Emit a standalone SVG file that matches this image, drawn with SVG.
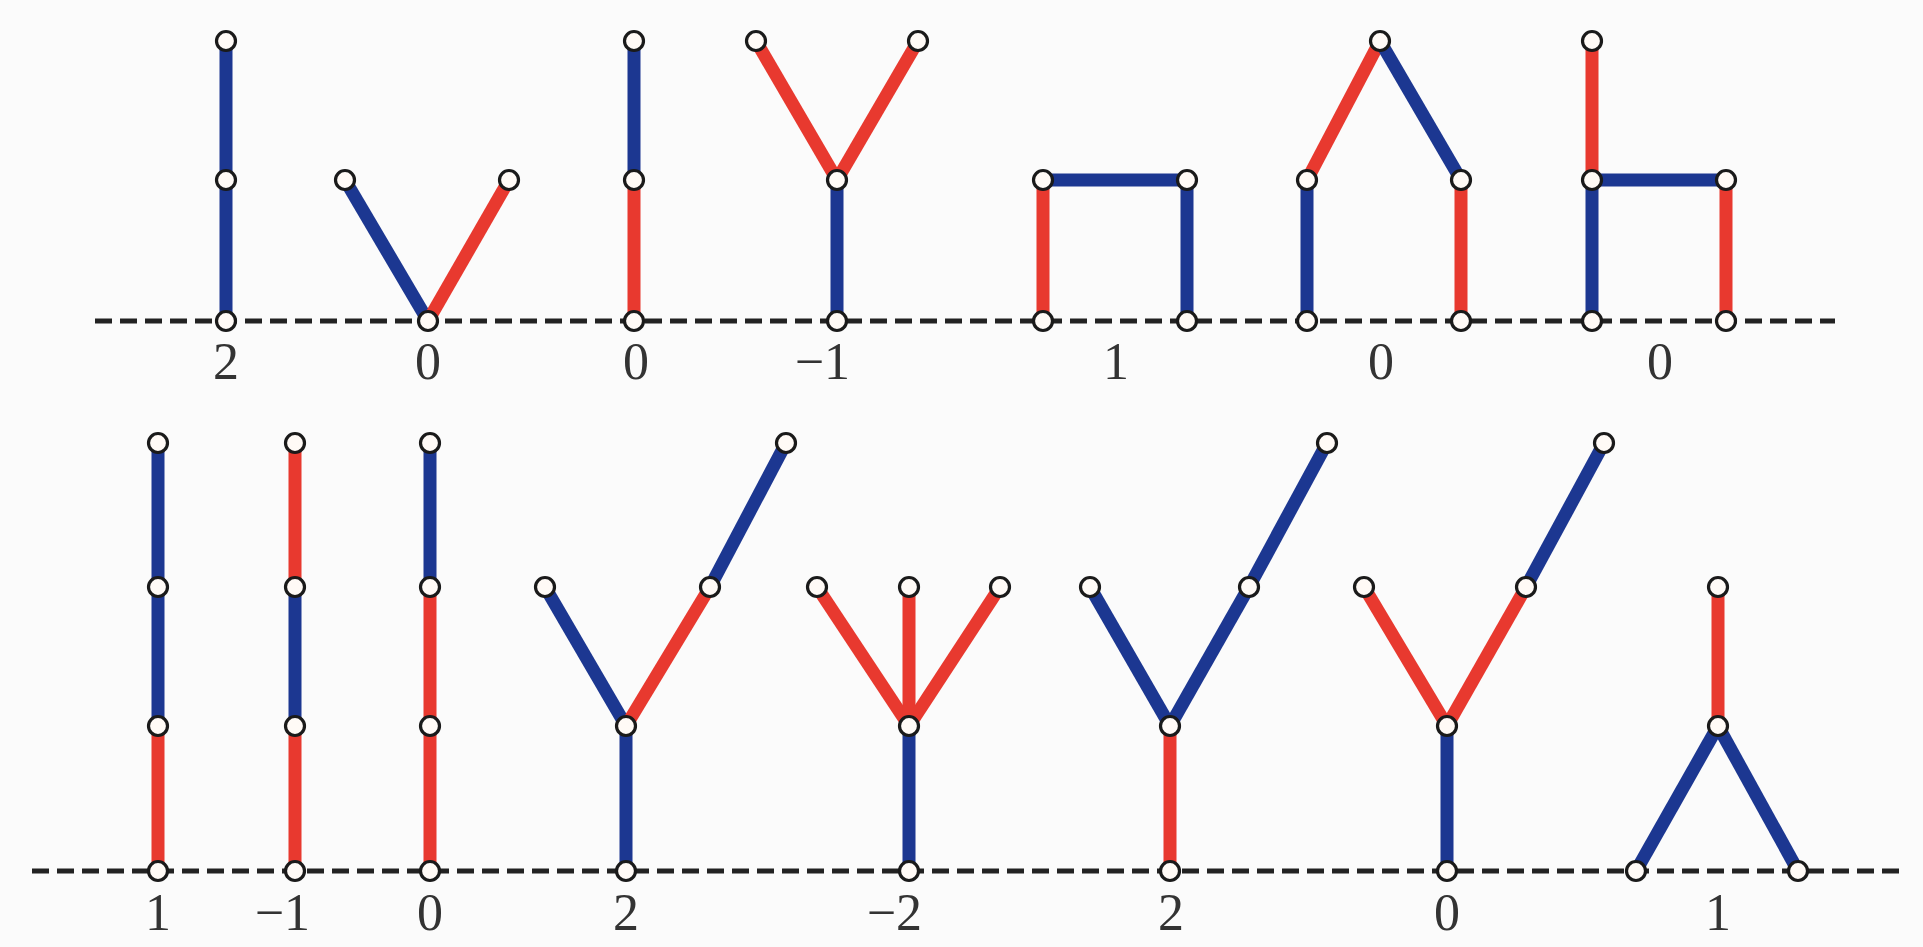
<svg xmlns="http://www.w3.org/2000/svg" width="1923" height="947" viewBox="0 0 1923 947">
<style>
.bg{fill:#fbfbfb}
.base{stroke:#222;stroke-width:5;stroke-dasharray:17 8;fill:none}
.b{stroke:#1c3791;stroke-width:13;stroke-linecap:butt;fill:none}
.r{stroke:#e8392f;stroke-width:13;stroke-linecap:butt;fill:none}
.n{fill:#fffaf6;stroke:#1a1a1a;stroke-width:3.2}
.lbl{font-family:"Liberation Serif","Times New Roman",serif;font-size:52px;fill:#333;text-anchor:middle}
.lble{font-family:"Liberation Serif","Times New Roman",serif;font-size:52px;fill:#333;text-anchor:end}
</style>
<rect class="bg" x="0" y="0" width="1923" height="947"/>
<g id="baselines">
<line class="base" x1="95" y1="321" x2="1835" y2="321"/>
<line class="base" x1="32" y1="871" x2="1903" y2="871"/>
</g>
<g id="connectors">
<!-- top row -->
<line class="b" x1="226" y1="41" x2="226" y2="180"/>
<line class="b" x1="226" y1="180" x2="226" y2="321"/>
<line class="b" x1="345" y1="180" x2="428" y2="321"/>
<line class="r" x1="509" y1="180" x2="428" y2="321"/>
<line class="b" x1="634" y1="41" x2="634" y2="180"/>
<line class="r" x1="634" y1="180" x2="634" y2="321"/>
<line class="r" x1="756" y1="41" x2="837" y2="180"/>
<line class="r" x1="918" y1="41" x2="837" y2="180"/>
<line class="b" x1="837" y1="180" x2="837" y2="321"/>
<line class="r" x1="1043" y1="180" x2="1043" y2="321"/>
<line class="b" x1="1043" y1="180" x2="1187" y2="180"/>
<line class="b" x1="1187" y1="180" x2="1187" y2="321"/>
<line class="b" x1="1307" y1="180" x2="1307" y2="321"/>
<line class="r" x1="1307" y1="180" x2="1380" y2="41"/>
<line class="b" x1="1380" y1="41" x2="1461" y2="180"/>
<line class="r" x1="1461" y1="180" x2="1461" y2="321"/>
<line class="r" x1="1592" y1="41" x2="1592" y2="180"/>
<line class="b" x1="1592" y1="180" x2="1726" y2="180"/>
<line class="b" x1="1592" y1="180" x2="1592" y2="321"/>
<line class="r" x1="1726" y1="180" x2="1726" y2="321"/>
<!-- bottom row -->
<line class="b" x1="158" y1="443" x2="158" y2="587"/>
<line class="b" x1="158" y1="587" x2="158" y2="726"/>
<line class="r" x1="158" y1="726" x2="158" y2="871"/>
<line class="r" x1="295" y1="443" x2="295" y2="587"/>
<line class="b" x1="295" y1="587" x2="295" y2="726"/>
<line class="r" x1="295" y1="726" x2="295" y2="871"/>
<line class="b" x1="430" y1="443" x2="430" y2="587"/>
<line class="r" x1="430" y1="587" x2="430" y2="726"/>
<line class="r" x1="430" y1="726" x2="430" y2="871"/>
<line class="b" x1="545" y1="587" x2="626" y2="726"/>
<line class="r" x1="710" y1="587" x2="626" y2="726"/>
<line class="b" x1="786" y1="443" x2="710" y2="587"/>
<line class="b" x1="626" y1="726" x2="626" y2="871"/>
<line class="r" x1="817" y1="587" x2="909" y2="726"/>
<line class="r" x1="909" y1="587" x2="909" y2="726"/>
<line class="r" x1="1000" y1="587" x2="909" y2="726"/>
<line class="b" x1="909" y1="726" x2="909" y2="871"/>
<line class="b" x1="1090" y1="587" x2="1170" y2="726"/>
<line class="b" x1="1249" y1="587" x2="1170" y2="726"/>
<line class="b" x1="1327" y1="443" x2="1249" y2="587"/>
<line class="r" x1="1170" y1="726" x2="1170" y2="871"/>
<line class="r" x1="1364" y1="587" x2="1447" y2="726"/>
<line class="r" x1="1526" y1="587" x2="1447" y2="726"/>
<line class="b" x1="1604" y1="443" x2="1526" y2="587"/>
<line class="b" x1="1447" y1="726" x2="1447" y2="871"/>
<line class="r" x1="1718" y1="587" x2="1718" y2="726"/>
<line class="b" x1="1718" y1="726" x2="1636" y2="871"/>
<line class="b" x1="1718" y1="726" x2="1798" y2="871"/>
</g>
<g id="fig-t1"><circle class="n" cx="226" cy="41" r="9.5"/><circle class="n" cx="226" cy="180" r="9.5"/><circle class="n" cx="226" cy="321" r="9.5"/></g>
<g id="fig-t2"><circle class="n" cx="345" cy="180" r="9.5"/><circle class="n" cx="509" cy="180" r="9.5"/><circle class="n" cx="428" cy="321" r="9.5"/></g>
<g id="fig-t3"><circle class="n" cx="634" cy="41" r="9.5"/><circle class="n" cx="634" cy="180" r="9.5"/><circle class="n" cx="634" cy="321" r="9.5"/></g>
<g id="fig-t4"><circle class="n" cx="756" cy="41" r="9.5"/><circle class="n" cx="918" cy="41" r="9.5"/><circle class="n" cx="837" cy="180" r="9.5"/><circle class="n" cx="837" cy="321" r="9.5"/></g>
<g id="fig-t5"><circle class="n" cx="1043" cy="180" r="9.5"/><circle class="n" cx="1187" cy="180" r="9.5"/><circle class="n" cx="1043" cy="321" r="9.5"/><circle class="n" cx="1187" cy="321" r="9.5"/></g>
<g id="fig-t6"><circle class="n" cx="1380" cy="41" r="9.5"/><circle class="n" cx="1307" cy="180" r="9.5"/><circle class="n" cx="1461" cy="180" r="9.5"/><circle class="n" cx="1307" cy="321" r="9.5"/><circle class="n" cx="1461" cy="321" r="9.5"/></g>
<g id="fig-t7"><circle class="n" cx="1592" cy="41" r="9.5"/><circle class="n" cx="1592" cy="180" r="9.5"/><circle class="n" cx="1726" cy="180" r="9.5"/><circle class="n" cx="1592" cy="321" r="9.5"/><circle class="n" cx="1726" cy="321" r="9.5"/></g>
<g id="fig-b1"><circle class="n" cx="158" cy="443" r="9.5"/><circle class="n" cx="158" cy="587" r="9.5"/><circle class="n" cx="158" cy="726" r="9.5"/><circle class="n" cx="158" cy="871" r="9.5"/></g>
<g id="fig-b2"><circle class="n" cx="295" cy="443" r="9.5"/><circle class="n" cx="295" cy="587" r="9.5"/><circle class="n" cx="295" cy="726" r="9.5"/><circle class="n" cx="295" cy="871" r="9.5"/></g>
<g id="fig-b3"><circle class="n" cx="430" cy="443" r="9.5"/><circle class="n" cx="430" cy="587" r="9.5"/><circle class="n" cx="430" cy="726" r="9.5"/><circle class="n" cx="430" cy="871" r="9.5"/></g>
<g id="fig-b4"><circle class="n" cx="786" cy="443" r="9.5"/><circle class="n" cx="545" cy="587" r="9.5"/><circle class="n" cx="710" cy="587" r="9.5"/><circle class="n" cx="626" cy="726" r="9.5"/><circle class="n" cx="626" cy="871" r="9.5"/></g>
<g id="fig-b5"><circle class="n" cx="817" cy="587" r="9.5"/><circle class="n" cx="909" cy="587" r="9.5"/><circle class="n" cx="1000" cy="587" r="9.5"/><circle class="n" cx="909" cy="726" r="9.5"/><circle class="n" cx="909" cy="871" r="9.5"/></g>
<g id="fig-b6"><circle class="n" cx="1327" cy="443" r="9.5"/><circle class="n" cx="1090" cy="587" r="9.5"/><circle class="n" cx="1249" cy="587" r="9.5"/><circle class="n" cx="1170" cy="726" r="9.5"/><circle class="n" cx="1170" cy="871" r="9.5"/></g>
<g id="fig-b7"><circle class="n" cx="1604" cy="443" r="9.5"/><circle class="n" cx="1364" cy="587" r="9.5"/><circle class="n" cx="1526" cy="587" r="9.5"/><circle class="n" cx="1447" cy="726" r="9.5"/><circle class="n" cx="1447" cy="871" r="9.5"/></g>
<g id="fig-b8"><circle class="n" cx="1718" cy="587" r="9.5"/><circle class="n" cx="1718" cy="726" r="9.5"/><circle class="n" cx="1636" cy="871" r="9.5"/><circle class="n" cx="1798" cy="871" r="9.5"/></g>
<g id="labels">
<text class="lbl" x="226" y="379">2</text>
<text class="lbl" x="428" y="379">0</text>
<text class="lbl" x="636" y="379">0</text>
<text class="lble" x="850" y="379">−1</text>
<text class="lbl" x="1116" y="379">1</text>
<text class="lbl" x="1381" y="379">0</text>
<text class="lbl" x="1660" y="379">0</text>
<text class="lbl" x="158" y="930">1</text>
<text class="lble" x="310" y="930">−1</text>
<text class="lbl" x="430" y="930">0</text>
<text class="lbl" x="626" y="930">2</text>
<text class="lble" x="922" y="930">−2</text>
<text class="lbl" x="1171" y="930">2</text>
<text class="lbl" x="1447" y="930">0</text>
<text class="lbl" x="1718" y="930">1</text>
</g>
</svg>
